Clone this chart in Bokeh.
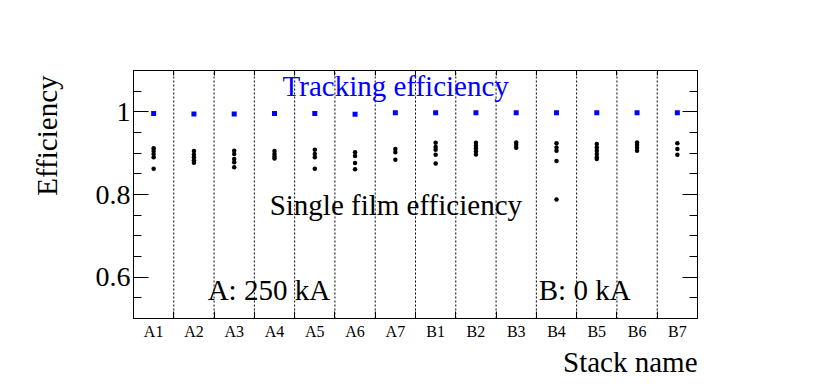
import math
from bokeh.plotting import figure
from bokeh.models import Range1d, FixedTicker, LinearAxis, Label, Title
from bokeh.embed import file_html
from bokeh.resources import INLINE

# ---- data ----
stacks = ["A1", "A2", "A3", "A4", "A5", "A6", "A7",
          "B1", "B2", "B3", "B4", "B5", "B6", "B7"]
tracking_eff = [0.996, 0.995, 0.995, 0.996, 0.996, 0.994, 0.998,
                0.998, 0.998, 0.998, 0.998, 0.998, 0.998, 0.998]
film_A1 = [0.912, 0.905, 0.898, 0.890, 0.862]
film_A2 = [0.905, 0.897, 0.890, 0.883, 0.877]
film_A3 = [0.906, 0.898, 0.886, 0.878, 0.866]
film_A4 = [0.905, 0.898, 0.892, 0.887]
film_A5 = [0.908, 0.898, 0.890, 0.862]
film_A6 = [0.902, 0.893, 0.876, 0.861]
film_A7 = [0.910, 0.902, 0.884]
film_B1 = [0.925, 0.915, 0.908, 0.896, 0.875]
film_B2 = [0.925, 0.918, 0.911, 0.904, 0.897]
film_B3 = [0.926, 0.920, 0.913]
film_B4 = [0.924, 0.914, 0.906, 0.881, 0.788]
film_B5 = [0.922, 0.914, 0.906, 0.898, 0.890, 0.886]
film_B6 = [0.926, 0.920, 0.913, 0.906]
film_B7 = [0.924, 0.910, 0.896]
film_eff = [film_A1, film_A2, film_A3, film_A4, film_A5, film_A6, film_A7,
            film_B1, film_B2, film_B3, film_B4, film_B5, film_B6, film_B7]
y_major = [0.6, 0.8, 1.0]
y_labels = {0.6: "0.6", 0.8: "0.8", 1: "1"}

FONT = "Liberation Serif"
n = len(stacks)
centers = [i + 0.5 for i in range(n)]
bounds = list(range(1, n))

p = figure(width=828, height=386, output_backend="svg", toolbar_location=None,
           x_range=Range1d(0, n), y_range=Range1d(0.5, 1.1),
           min_border_left=133, min_border_right=131,
           min_border_top=70, min_border_bottom=68)
p.xgrid.visible = False
p.ygrid.visible = False
p.outline_line_color = "black"
p.outline_line_width = 1
p.background_fill_color = "white"
p.border_fill_color = "white"

# x axis: labels at centers, ticks at boundaries
xt = FixedTicker(ticks=centers, minor_ticks=bounds)
p.xaxis.ticker = xt
p.xaxis.major_label_overrides = {c: s for c, s in zip(centers, stacks)}
p.xaxis.major_tick_in = 0
p.xaxis.major_tick_out = 0
p.xaxis.minor_tick_in = 7
p.xaxis.minor_tick_out = 0
p.xaxis.major_label_text_font = FONT
p.xaxis.major_label_text_font_size = "16px"
p.xaxis.major_label_text_color = "black"
p.xaxis.major_label_standoff = 4
p.xaxis.axis_line_color = "black"

# y axis
yt = FixedTicker(ticks=y_major, minor_ticks=[0.5 + 0.05 * k for k in range(13)])
p.yaxis.ticker = yt
p.yaxis.major_label_overrides = y_labels
p.yaxis.major_tick_in = 15
p.yaxis.major_tick_out = 0
p.yaxis.minor_tick_in = 8
p.yaxis.minor_tick_out = 0
p.yaxis.major_label_text_font = FONT
p.yaxis.major_label_text_font_size = "28px"
p.yaxis.major_label_text_color = "black"
p.yaxis.major_label_standoff = 3
p.yaxis.axis_line_color = "black"

# mirror axes (ticks only)
ra = LinearAxis(ticker=yt, major_tick_in=15, major_tick_out=0, minor_tick_in=8,
                minor_tick_out=0, axis_line_color="black",
                major_label_overrides={t: "" for t in y_major})
p.add_layout(ra, "right")
ta = LinearAxis(ticker=FixedTicker(ticks=bounds), major_tick_in=5, major_tick_out=0,
                minor_tick_in=0, minor_tick_out=0, axis_line_color="black",
                major_label_overrides={b: "" for b in bounds})
p.add_layout(ta, "above")

# axis titles
p.add_layout(Title(text="Stack name", align="right", text_font=FONT,
                   text_font_size="29px", text_font_style="normal",
                   text_color="black", standoff=3), "below")
p.add_layout(Title(text="Efficiency", align="right", vertical_align="top",
                   text_font=FONT, text_font_size="29px", text_font_style="normal",
                   text_color="black", standoff=56, offset=5), "left")

# dotted separators
p.segment(x0=bounds, y0=[0.5] * len(bounds), x1=bounds, y1=[1.1] * len(bounds),
          line_color="black", line_width=1, line_dash="2 2")

# single film points
xs, ys = [], []
for c, vals in zip(centers, film_eff):
    for v in vals:
        xs.append(c)
        ys.append(v)
p.scatter(x=xs, y=ys, marker="circle", size=4.5, fill_color="black", line_color=None)

# tracking efficiency
p.scatter(x=centers, y=tracking_eff, marker="square", size=5, fill_color="#0000ff",
          line_color=None)

# texts inside the frame
def lab(x, y, text, color="black", size="29px", **kw):
    p.add_layout(Label(x=x, y=y, text=text, text_color=color, text_font=FONT,
                       text_font_size=size, text_baseline="alphabetic", **kw))

lab(3.70, 1.063, "Tracking efficiency", color="#0000ff")
lab(3.38, 0.774, "Single film efficiency")
lab(1.84, 0.569, "A: 250 kA")
lab(10.06, 0.569, "B: 0 kA")

open("out.html", "w").write(file_html(p, INLINE))
